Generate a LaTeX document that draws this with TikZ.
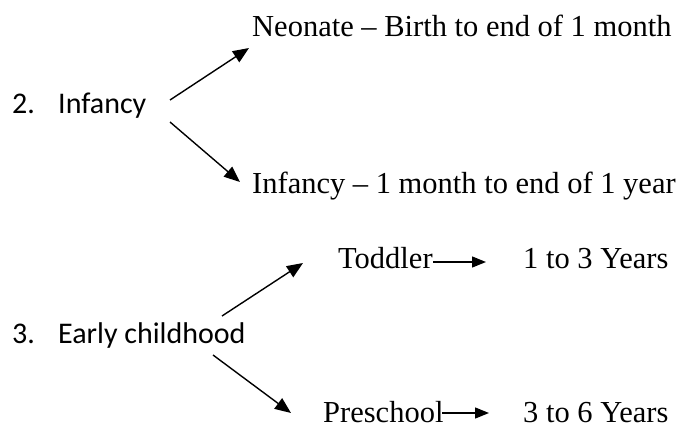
\documentclass[tikz,border=0pt]{standalone}
\usepackage{fontspec}
\setmainfont{Liberation Serif}
\newfontfamily\calfont{Carlito}
\usetikzlibrary{arrows.meta}
\begin{document}
\begin{tikzpicture}[x=1pt,y=-1pt,
  tnr/.style={anchor=base west,inner sep=0pt,text depth=0pt,font=\fontsize{30.5}{36}\selectfont},
  cal/.style={anchor=base west,inner sep=0pt,font=\calfont\fontsize{30}{36}\selectfont},
  arr/.style={line width=1.4pt,-{Triangle[length=16pt,width=13pt]}},
  sarr/.style={line width=1.4pt,-{Triangle[length=14pt,width=11pt]}}]
\useasboundingbox (0,0) rectangle (693,428);
% Infancy group
\node[cal] (n2) at (12,113) {2.};
\node[cal] (inf) at (58,113) {Infancy};
\node[tnr] (neo) at (252,37) {Neonate -- Birth to end of 1 month};
\node[tnr] (inf2) at (252,193) {Infancy -- 1 month to end of 1 year};
\coordinate (a1s) at (170,100);
\coordinate (a1e) at (249,48);
\coordinate (a2s) at (170,122);
\coordinate (a2e) at (240,182);
\draw[arr] (a1s) -- (a1e);
\draw[arr] (a2s) -- (a2e);
% Early childhood group
\node[cal] (n3) at (12,343) {3.};
\node[cal] (ec) at (58,343) {Early childhood};
\node[tnr] (tod) at (338,268) {Toddler};
\node[tnr] (y13) at (523,268) {1 to 3 Years};
\node[tnr] (pre) at (323,422) {Preschool};
\node[tnr] (y36) at (523,422) {3 to 6 Years};
\coordinate (a3s) at (222,316);
\coordinate (a3e) at (303,263);
\coordinate (a4s) at (213,355);
\coordinate (a4e) at (291,413);
\draw[arr] (a3s) -- (a3e);
\draw[arr] (a4s) -- (a4e);
\coordinate (t1) at (433,262);
\coordinate (t2) at (486,262);
\coordinate (p1) at (442,413);
\coordinate (p2) at (489,413);
\draw[sarr] (t1) -- (t2);
\draw[sarr] (p1) -- (p2);
\end{tikzpicture}
\end{document}
